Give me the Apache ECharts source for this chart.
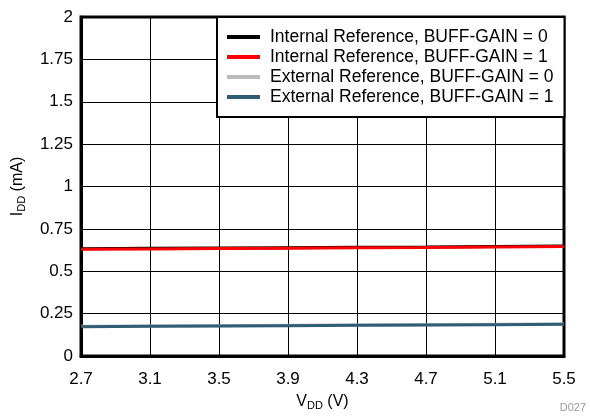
<!DOCTYPE html>
<html>
<head>
<meta charset="utf-8">
<script src="https://cdn.jsdelivr.net/npm/echarts@6/dist/echarts.min.js"></script>
<style>html,body{margin:0;padding:0;background:#fff}#c{width:590px;height:416px}</style>
</head>
<body>
<div id="c"></div>
<script>
var vdd = [2.7, 3.1, 3.5, 3.9, 4.3, 4.7, 5.1, 5.5];
var intBuff0 = [0.633, 0.635, 0.637, 0.639, 0.641, 0.643, 0.646, 0.649];
var intBuff1 = [0.630, 0.632, 0.634, 0.636, 0.638, 0.640, 0.643, 0.646];
var extBuff0 = [0.175, 0.177, 0.179, 0.181, 0.183, 0.185, 0.187, 0.189];
var extBuff1 = [0.173, 0.175, 0.177, 0.179, 0.181, 0.183, 0.185, 0.187];
var seriesNames = ['Internal Reference, BUFF-GAIN = 0', 'Internal Reference, BUFF-GAIN = 1', 'External Reference, BUFF-GAIN = 0', 'External Reference, BUFF-GAIN = 1'];
var seriesColors = ['#000000', '#ff0000', '#bbbbbb', '#2f5d75'];
var FONT = 'Liberation Sans, Arial, Helvetica, sans-serif';

function pairs(ys) { return vdd.map(function (x, i) { return [x, ys[i]]; }); }
var allY = [intBuff0, intBuff1, extBuff0, extBuff1];

var chart = echarts.init(document.getElementById('c'), null, {renderer: 'canvas'});
chart.setOption({
  animation: false,
  backgroundColor: '#fff',
  textStyle: {fontFamily: FONT},
  grid: {left: 81, right: 26, top: 17, bottom: 58, show: true, borderColor: '#000', borderWidth: 3, backgroundColor: 'transparent'},
  legend: {
    orient: 'vertical', left: 217, top: 17,
    padding: [10, 11, 10, 10], itemGap: 0,
    itemWidth: 33, itemHeight: 4, icon: 'rect',
    backgroundColor: '#fff', borderColor: '#000', borderWidth: 2,
    textStyle: {fontSize: 17.5, color: '#000', fontFamily: FONT, lineHeight: 20, padding: [0, 0, 0, 5]},
    data: seriesNames
  },
  xAxis: {
    type: 'value', min: 2.7, max: 5.5, interval: 0.4,
    name: '{a|V}{b|DD}{a| (V)}', nameLocation: 'middle', nameGap: 36,
    nameTextStyle: {rich: {a: {fontSize: 16, fontFamily: FONT, color: '#000'}, b: {fontSize: 11, fontFamily: FONT, color: '#000', padding: [8, 0, 0, 0]}}},
    axisLine: {lineStyle: {color: '#000', width: 3}},
    axisTick: {show: false},
    axisLabel: {fontSize: 17, color: '#000', margin: 15, fontFamily: FONT, formatter: function (v) { return (+v).toFixed(1); }},
    splitLine: {show: true, lineStyle: {color: '#000', width: 1}}
  },
  yAxis: {
    type: 'value', min: 0, max: 2, interval: 0.25,
    name: '{a|I}{b|DD}{a| (mA)}', nameLocation: 'middle', nameGap: 54,
    nameTextStyle: {rich: {a: {fontSize: 16, fontFamily: FONT, color: '#000'}, b: {fontSize: 11, fontFamily: FONT, color: '#000', padding: [8, 0, 0, 0]}}},
    axisLine: {lineStyle: {color: '#000', width: 3}},
    axisTick: {show: false},
    axisLabel: {fontSize: 17, color: '#000', margin: 8, fontFamily: FONT, formatter: function (v) { return String(+v.toFixed(2)); }},
    splitLine: {show: true, lineStyle: {color: '#000', width: 1}}
  },
  series: seriesNames.map(function (n, i) {
    return {name: n, type: 'line', data: pairs(allY[i]), showSymbol: false, symbol: 'none',
      color: seriesColors[i], lineStyle: {width: 3, color: seriesColors[i]}};
  }),
  graphic: [{type: 'text', right: 4, bottom: 3, style: {text: 'D027', fontSize: 11, fill: '#999', fontFamily: FONT}}]
});
</script>
</body>
</html>
